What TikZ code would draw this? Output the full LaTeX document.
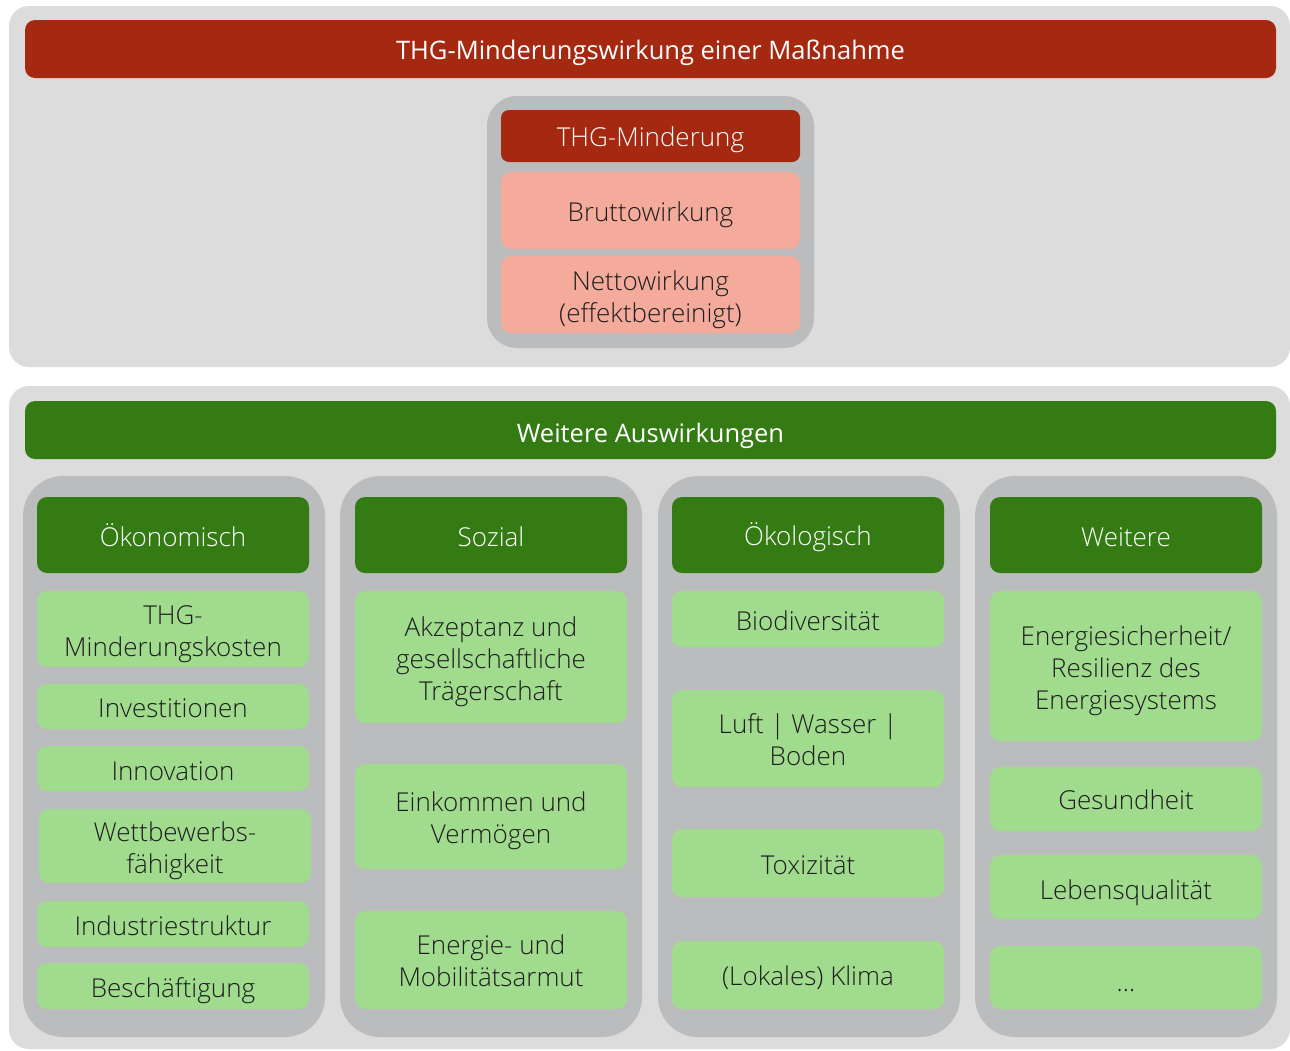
\documentclass[tikz,border=0pt]{standalone}
\usepackage{fontspec}
\IfFontExistsTF{Open Sans Light}{\setmainfont{Open Sans Light}}{\setmainfont{Open Sans}}
\newfontfamily\regfont{Open Sans}
\definecolor{panelgray}{HTML}{DCDCDC}
\definecolor{colgray}{HTML}{BBBCBE}
\definecolor{darkred}{HTML}{A52811}
\definecolor{salmon}{HTML}{F4AB9C}
\definecolor{darkgreen}{HTML}{347B14}
\definecolor{lightgreen}{HTML}{A0DB8E}
\definecolor{txt}{HTML}{1E1E1E}
% [text shift]{style}{name}{x1}{y1}{x2}{y2}{text}
\newcommand\mybox[8][3]{%
  \node[#2, minimum width={(#6-#4)*1pt}, minimum height={(#7-#5)*1pt}] (#3) at ({(#4+#6)/2},{-(#5+#7)/2}) {};
  \node[#2, fill=none, minimum width=0pt, minimum height=0pt, yshift=-#1pt] (#3-t) at (#3.center) {#8};}
\tikzset{
  base/.style={inner sep=0pt, outer sep=0pt, align=center, font=\fontsize{26}{32}\selectfont},
  panel/.style={base, fill=panelgray, rounded corners=20pt},
  column/.style={base, fill=colgray, rounded corners=40pt},
  inner/.style={base, fill=colgray, rounded corners=30pt},
  redbar/.style={base, fill=darkred, rounded corners=10pt, text=white, font=\regfont\fontsize{25.5}{32}\selectfont},
  greenbar/.style={base, fill=darkgreen, rounded corners=10pt, text=white, font=\regfont\fontsize{25.5}{32}\selectfont},
  redhead/.style={base, fill=darkred, rounded corners=8pt, text=white},
  salmonbox/.style={base, fill=salmon, rounded corners=10pt, text=txt},
  greenhead/.style={base, fill=darkgreen, rounded corners=10pt, text=white},
  itembox/.style={base, fill=lightgreen, rounded corners=10pt, text=txt},
}
\begin{document}
\begin{tikzpicture}[x=1pt,y=1pt]
\useasboundingbox[fill=white] (0,0) rectangle (1290,-1050);
% top panel
\mybox[0]{panel}{toppanel}{9}{6}{1290}{367}{}
\mybox[4]{redbar}{title}{25}{20}{1276}{78}{THG-Minderungswirkung einer Maßnahme}
\mybox[0]{inner}{thgbox}{487}{96}{814}{348}{}
\mybox[4]{redhead}{thg}{501}{110}{800}{162}{THG-Minderung}
\mybox[4]{salmonbox}{brutto}{501}{172}{800}{249}{Bruttowirkung}
\mybox[5]{salmonbox}{netto}{501}{256}{800}{333}{Nettowirkung\\(effektbereinigt)}
% bottom panel
\mybox[0]{panel}{botpanel}{9}{386}{1290}{1049}{}
\mybox[6]{greenbar}{weitere}{25}{401}{1276}{459}{Weitere Auswirkungen}
% columns
\mybox[0]{column}{col1}{23}{476}{325}{1037}{}
\mybox[0]{column}{col2}{340}{476}{642}{1037}{}
\mybox[0]{column}{col3}{658}{476}{960}{1037}{}
\mybox[0]{column}{col4}{975}{476}{1277}{1037}{}
% column 1
\mybox[0]{greenhead}{h1}{37}{497}{309}{573}{Ökonomisch}
\mybox[5]{itembox}{a1}{37}{591}{309}{667}{THG-\\Minderungskosten}
\mybox[2]{itembox}{a2}{37}{684}{309}{729}{Investitionen}
\mybox[3]{itembox}{a3}{37}{746}{309}{791}{Innovation}
\mybox[5]{itembox}{a4}{39}{809}{311}{883}{Wettbewerbs-\\fähigkeit}
\mybox[2]{itembox}{a5}{37}{901}{309}{947}{Industriestruktur}
\mybox[5]{itembox}{a6}{37}{963}{309}{1009}{Beschäftigung}
% column 2
\mybox[2]{greenhead}{h2}{355}{497}{627}{573}{Sozial}
\mybox[5]{itembox}{b1}{355}{591}{627}{723}{Akzeptanz und\\gesellschaftliche\\Trägerschaft}
\mybox[4]{itembox}{b2}{355}{764}{627}{869}{Einkommen und\\Vermögen}
\mybox[1]{itembox}{b3}{355}{911}{627}{1009}{Energie- und\\Mobilitätsarmut}
% column 3
\mybox[2]{greenhead}{h3}{672}{497}{944}{573}{Ökologisch}
\mybox[2]{itembox}{c1}{672}{591}{944}{647}{Biodiversität}
\mybox[1]{itembox}{c2}{672}{690}{944}{787}{Luft | Wasser |\\Boden}
\mybox[2]{itembox}{c3}{672}{829}{944}{897}{Toxizität}
\mybox[3]{itembox}{c4}{672}{941}{944}{1009}{(Lokales) Klima}
% column 4
\mybox[2]{greenhead}{h4}{990}{497}{1262}{573}{Weitere}
\mybox[5]{itembox}{d1}{990}{591}{1262}{741}{Energiesicherheit/\\Resilienz des\\Energiesystems}
\mybox[1]{itembox}{d2}{990}{767}{1262}{831}{Gesundheit}
\mybox[6]{itembox}{d3}{990}{855}{1262}{919}{Lebensqualität}
\mybox[10]{itembox}{d4}{990}{946}{1262}{1009}{\raisebox{-8pt}{...}}
\end{tikzpicture}
\end{document}
